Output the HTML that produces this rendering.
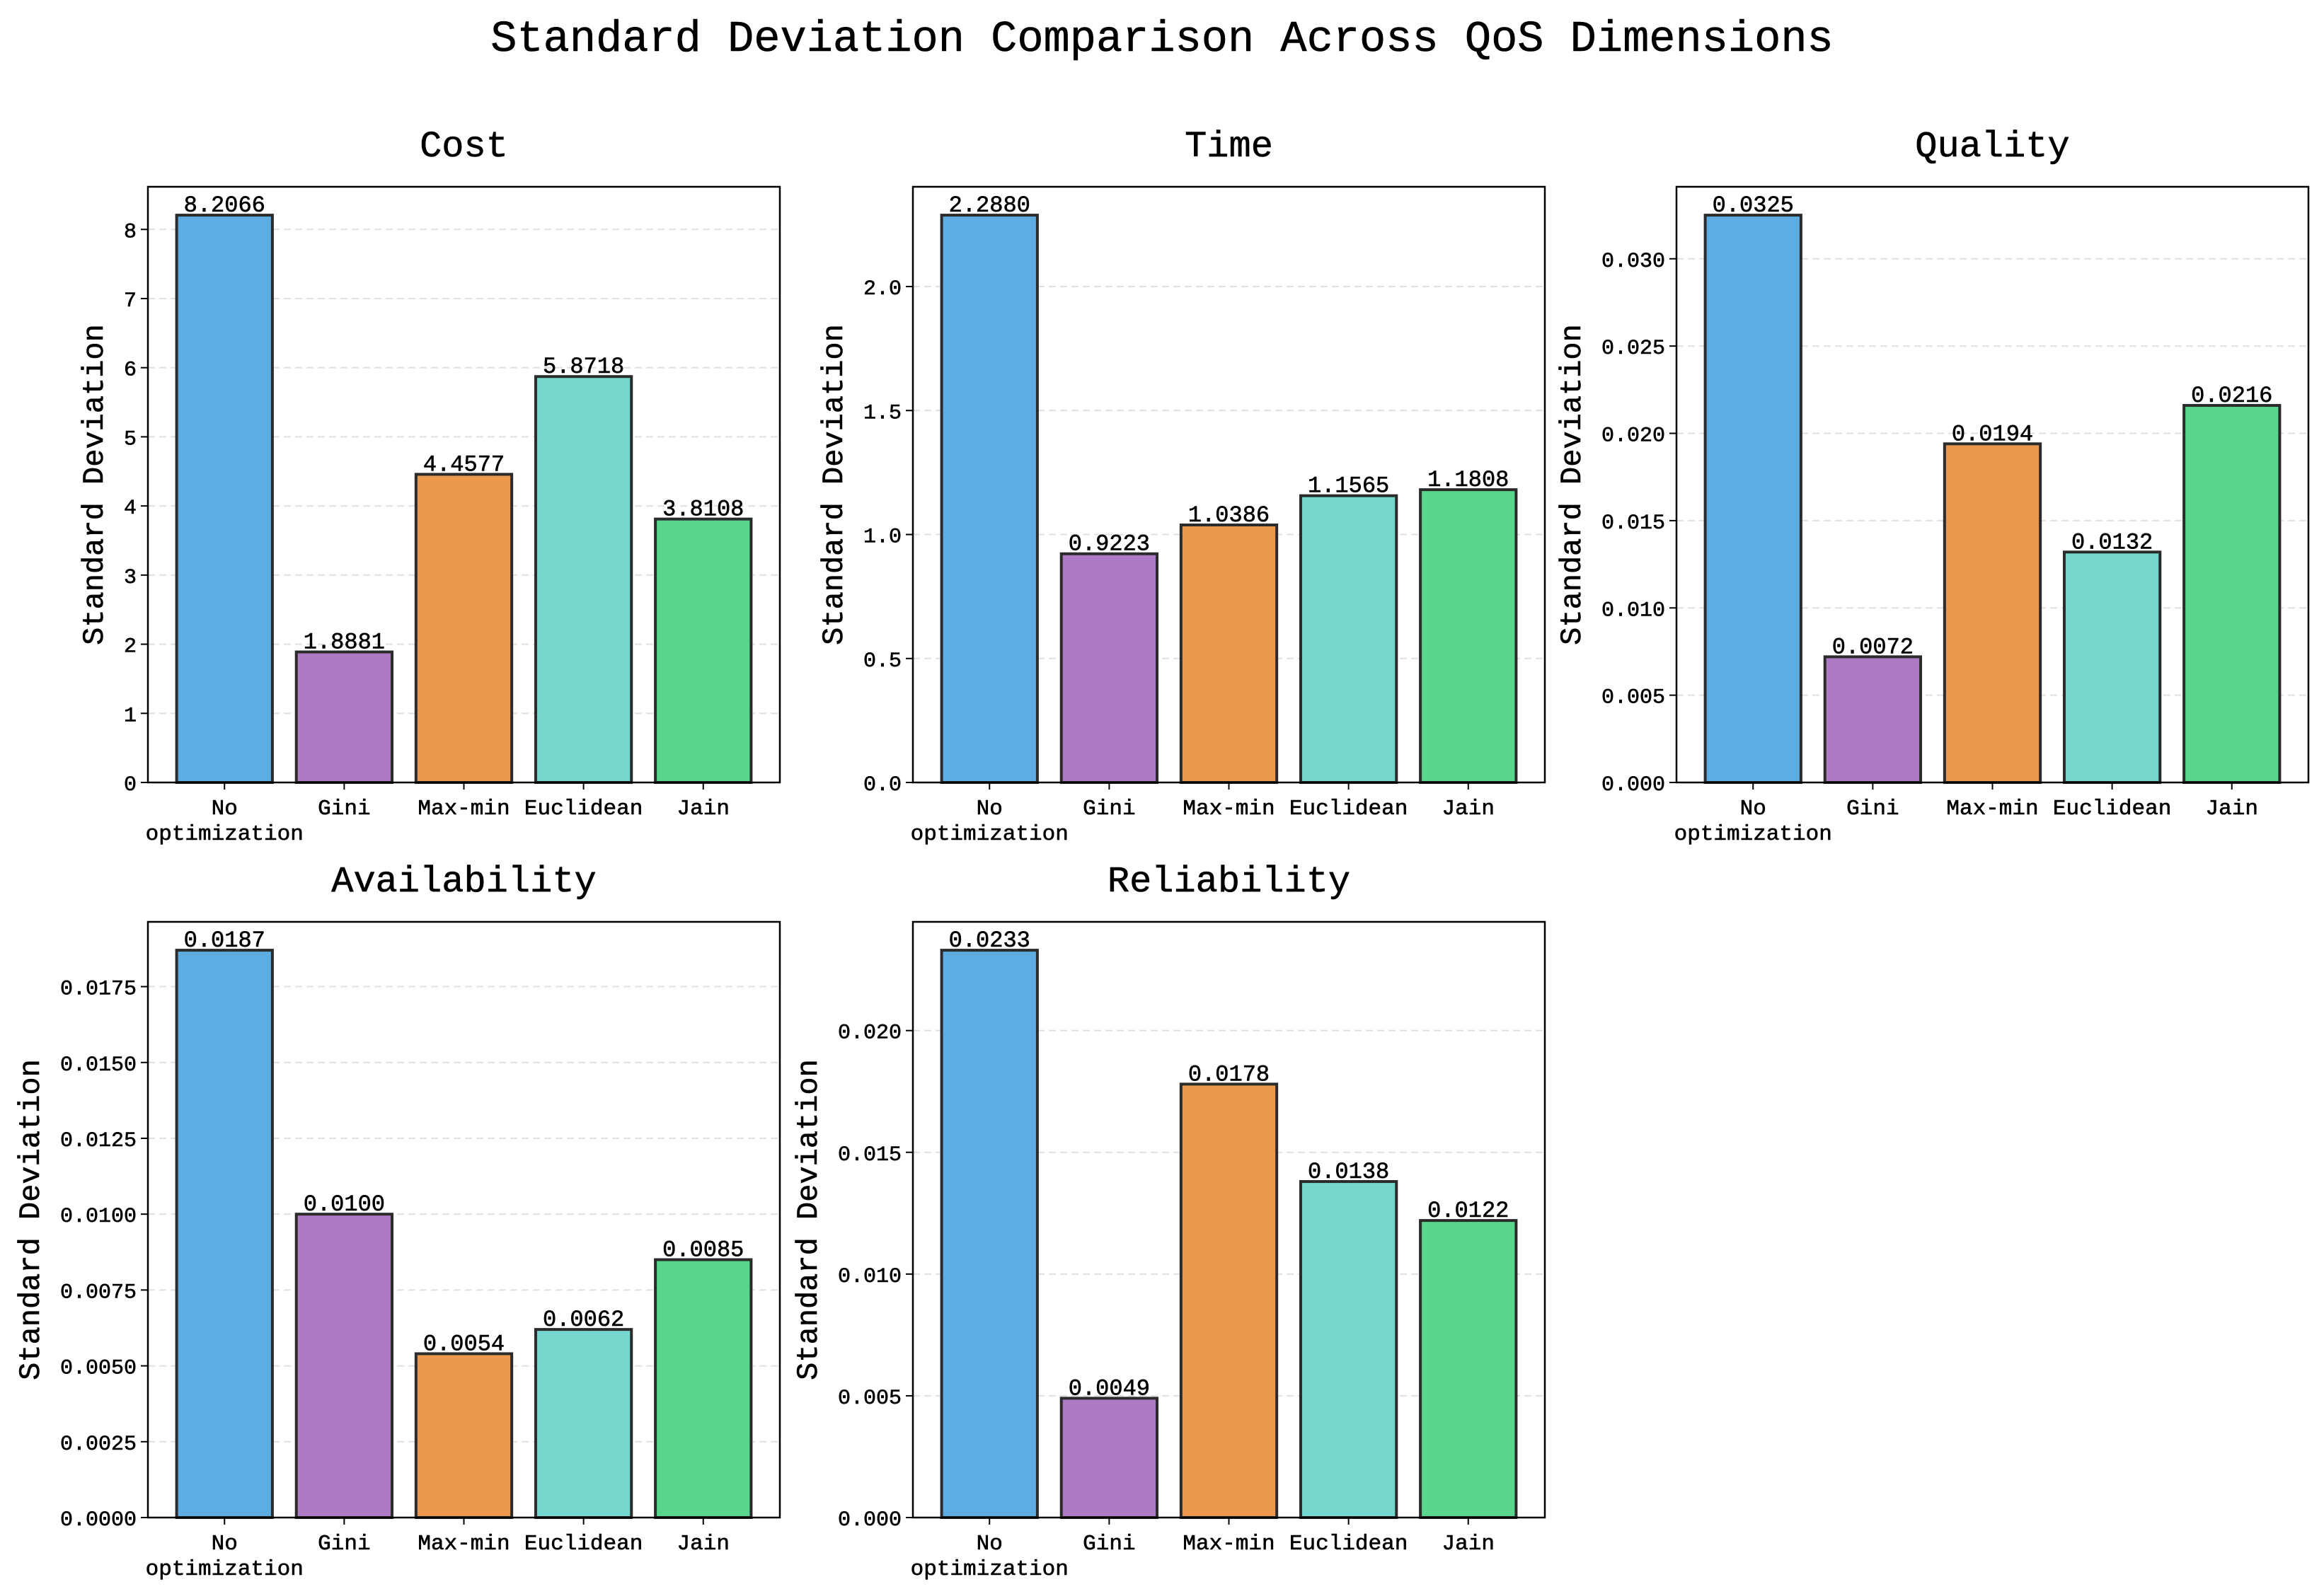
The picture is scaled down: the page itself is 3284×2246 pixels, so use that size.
<!DOCTYPE html>
<html><head><meta charset="utf-8"><style>
html,body{margin:0;padding:0;background:#fff;}
svg{display:block;font-family:"Liberation Mono","WenQuanYi Zen Hei",monospace;}
svg text{stroke:#000;stroke-width:0.6px;}
</style></head><body>
<svg id="fig" width="3284" height="2246" viewBox="0 0 3284 2246" xmlns="http://www.w3.org/2000/svg">
<rect width="3284" height="2246" fill="#fff"/>
<text x="1642" y="72" text-anchor="middle" font-size="62" fill="#000">Standard Deviation Comparison Across QoS Dimensions</text>
</svg>
<script>
const categories = ["No\noptimization","Gini","Max-min","Euclidean","Jain"];
const panelTitles = ["Cost","Time","Quality","Availability","Reliability"];
const costValues = [8.2066,1.8881,4.4577,5.8718,3.8108];
const timeValues = [2.2880,0.9223,1.0386,1.1565,1.1808];
const qualityValues = [0.0325,0.0072,0.0194,0.0132,0.0216];
const availabilityValues = [0.0187,0.0100,0.0054,0.0062,0.0085];
const reliabilityValues = [0.0233,0.0049,0.0178,0.0138,0.0122];
const costTicks = [0,1,2,3,4,5,6,7,8];
const timeTicks = [0,0.5,1.0,1.5,2.0];
const qualityTicks = [0,0.005,0.010,0.015,0.020,0.025,0.030];
const availabilityTicks = [0,0.0025,0.005,0.0075,0.010,0.0125,0.015,0.0175];
const reliabilityTicks = [0,0.005,0.010,0.015,0.020];
const tickDecimals = [0,1,3,4,3];

const colors = ["#5dade2","#af7ac5","#eb984e","#76d7cf","#58d68d"];
const NS = "http://www.w3.org/2000/svg";
const svg = document.getElementById("fig");
function mk(tag, attrs, parent){
  const e = document.createElementNS(NS, tag);
  for (const k in attrs) e.setAttribute(k, attrs[k]);
  (parent||svg).appendChild(e);
  return e;
}
const W = 893, H = 842;
const lefts = [209,1290,2369];
const tops = [264,1303];
const panels = [
  {vals:costValues,ticks:costTicks,col:0,row:0,name:"cost"},
  {vals:timeValues,ticks:timeTicks,col:1,row:0,name:"time"},
  {vals:qualityValues,ticks:qualityTicks,col:2,row:0,name:"quality"},
  {vals:availabilityValues,ticks:availabilityTicks,col:0,row:1,name:"availability"},
  {vals:reliabilityValues,ticks:reliabilityTicks,col:1,row:1,name:"reliability"}
];
panels.forEach((p,pi)=>{
  const x0 = lefts[p.col], y0 = tops[p.row];
  const g = mk("g",{});
  
  
  const vmax = Math.max(...p.vals);
  const ymax = vmax*1.05;
  const xmin = -0.64, xmax = 4.64;
  const sx = v => x0 + (v - xmin)/(xmax - xmin)*W;
  const sy = v => y0 + H - v/ymax*H;
  p.ticks.forEach(t=>{
    const y = sy(t);
    const gl = mk("line",{x1:x0,x2:x0+W,y1:y,y2:y,stroke:"#cccccc","stroke-width":2,"stroke-dasharray":"10,6",opacity:0.6},g);
    
    
    mk("line",{x1:x0-10,x2:x0,y1:y,y2:y,stroke:"#000","stroke-width":2},g);
    const tl = mk("text",{x:x0-16,y:y+11,"text-anchor":"end","font-size":30,fill:"#000"},g);
    tl.textContent = t.toFixed(tickDecimals[pi]);
    
    
  });
  p.vals.forEach((v,i)=>{
    const bx = sx(i-0.4), bw = sx(i+0.4)-sx(i-0.4);
    const r = mk("rect",{x:bx,y:sy(v),width:bw,height:sy(0)-sy(v),fill:colors[i],stroke:"#2b2b2b","stroke-width":4},g);
    
    
    const lb = mk("text",{x:sx(i),y:sy(v)-5,"text-anchor":"middle","font-size":32,fill:"#000"},g);
    lb.textContent = v.toFixed(4);
    
    
    mk("line",{x1:sx(i),x2:sx(i),y1:y0+H,y2:y0+H+10,stroke:"#000","stroke-width":2},g);
    const lines = categories[i].split("\n");
    lines.forEach((ln,li)=>{
      const ct = mk("text",{x:sx(i),y:y0+H+45+li*36,"text-anchor":"middle","font-size":31,fill:"#000"},g);
      ct.textContent = ln;
      
      
    });
  });
  const fr = mk("rect",{x:x0,y:y0,width:W,height:H,fill:"none",stroke:"#000","stroke-width":2.5},g);
  
  
  const tt = mk("text",{x:x0+W/2,y:y0-43,"text-anchor":"middle","font-size":52,fill:"#000"},g);
  tt.textContent = panelTitles[pi];
  
  
  const maxLen = Math.max(...p.ticks.map(t=>t.toFixed(tickDecimals[pi]).length));
  const lx = x0 - 16 - maxLen*18 - 30;
  const yl = mk("text",{x:lx,y:y0+H/2,"text-anchor":"middle","font-size":42,fill:"#000",transform:"rotate(-90 "+lx+" "+(y0+H/2)+")"},g);
  yl.textContent = "Standard Deviation";
  
  
});
</script>
</body></html>
